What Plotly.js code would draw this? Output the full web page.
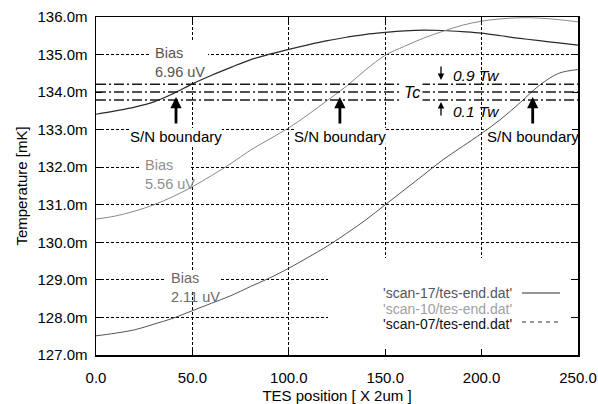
<!DOCTYPE html>
<html>
<head>
<meta charset="utf-8">
<script src="https://cdn.plot.ly/plotly-3.0.1.min.js"></script>
<style>html,body{margin:0;padding:0;background:#fff;}#chart{width:598px;height:404px;}</style>
</head>
<body>
<div id="chart"></div>
<script>
// ---- data ----
const positions = [0,10,20,30,40,50,60,70,80,90,100,110,120,130,140,150,160,170,180,190,200,210,220,230,240,250];
const scan17 = [133.41,133.50,133.60,133.74,133.96,134.22,134.45,134.66,134.86,135.01,135.14,135.26,135.37,135.46,135.54,135.59,135.63,135.65,135.64,135.61,135.57,135.50,135.43,135.37,135.31,135.25];
const scan10 = [130.62,130.70,130.83,131.00,131.22,131.48,131.78,132.10,132.45,132.75,133.05,133.40,133.78,134.16,134.60,134.98,135.22,135.44,135.62,135.78,135.89,135.95,135.98,135.97,135.93,135.87];
const scan07 = [127.51,127.58,127.67,127.82,127.98,128.18,128.38,128.58,128.82,129.05,129.31,129.60,129.90,130.24,130.60,131.00,131.40,131.80,132.20,132.55,132.90,133.28,133.72,134.18,134.50,134.60];
const seriesNames = ["'scan-17/tes-end.dat'", "'scan-10/tes-end.dat'", "'scan-07/tes-end.dat'"];
const biasLabels = ["6.96 uV", "5.56 uV", "2.11 uV"];
const twLevels = [134.21, 134.00, 133.79];      // 0.9 Tw, Tc, 0.1 Tw
const twNames = ["0.9 Tw", "Tc", "0.1 Tw"];
const snBoundaryX = [41.5, 126.5, 226.5];
const xTickVals = [0,50,100,150,200,250];
const xTickText = ["0.0","50.0","100.0","150.0","200.0","250.0"];
const yTickVals = [127,128,129,130,131,132,133,134,135,136];
const yTickText = ["127.0m","128.0m","129.0m","130.0m","131.0m","132.0m","133.0m","134.0m","135.0m","136.0m"];

// ---- styling ----
const FONT = "Liberation Sans, Arial, Helvetica, sans-serif";
const curveColors = ['#2a2a2a', '#8a8a8a', '#555555'];
const curveWidths = [1.2, 1.0, 1.0];
const labelColors = ['#555555', '#a0a0a0', '#111111'];
const biasColors = ['#555555', '#8f8f8f', '#6a6a6a'];

const series = [scan17, scan10, scan07];
const traces = series.map((ys, i) => ({
  x: positions, y: ys, type: 'scatter', mode: 'lines',
  line: {color: curveColors[i], width: curveWidths[i], shape: 'spline', smoothing: 1},
  name: seriesNames[i], showlegend: false, hoverinfo: 'skip'
}));
twLevels.forEach(v => traces.push({
  x: [xTickVals[0], xTickVals[xTickVals.length-1]], y: [v, v], type: 'scatter', mode: 'lines',
  line: {color: '#1a1a1a', width: 1.5, dash: '10px,3px,2px,3px'}, showlegend: false, hoverinfo: 'skip'
}));

// pixel helpers for layout-only placement (plot area 96..578 x, 17..355 y)
const xr = [0, 250], yr = [127, 136];
const L = 96, R = 578, T = 17, B = 355;
const px2x = p => xr[0] + (p - L) / (R - L) * (xr[1] - xr[0]);
const py2y = p => yr[1] - (p - T) / (B - T) * (yr[1] - yr[0]);
const dx = p => p / (R - L) * (xr[1] - xr[0]);

const shapes = [];
function mask(x0p, x1p, y0p, y1p) {
  shapes.push({type: 'rect', layer: 'between', xref: 'x', yref: 'y',
    x0: px2x(x0p), x1: px2x(x1p), y0: py2y(y1p), y1: py2y(y0p),
    fillcolor: '#ffffff', line: {width: 0}});
}
mask(151, 208, 42, 81);     // Bias 6.96
mask(139, 191, 155, 192);   // Bias 5.56
mask(166, 220, 270, 290);   // Bias 2.11
mask(328, 570, 258, 352);   // legend box
// hide grid under the Tc line
shapes.push({type: 'line', layer: 'between', xref: 'x', yref: 'y', x0: xr[0], x1: xr[1],
  y0: twLevels[1], y1: twLevels[1], line: {color: '#ffffff', width: 2}});
// masks for S/N labels
snBoundaryX.forEach(x => {
  shapes.push({type: 'rect', layer: 'between', xref: 'x', yref: 'y',
    x0: x - dx(46), x1: x + dx(46), y0: py2y(145), y1: py2y(128),
    fillcolor: '#ffffff', line: {width: 0}});
});
// legend line samples
shapes.push({type: 'line', xref: 'x', yref: 'y', x0: px2x(522), x1: px2x(560), y0: py2y(293), y1: py2y(293),
  line: {color: curveColors[0], width: 1}});
shapes.push({type: 'line', xref: 'x', yref: 'y', x0: px2x(522), x1: px2x(560), y0: py2y(322), y1: py2y(322),
  line: {color: '#333', width: 1, dash: '4px,4px'}});

const annotations = [];
// Bias labels
const biasPos = [[153, 62], [142.7, 174], [168.7, 287]];
biasLabels.forEach((t, i) => annotations.push({
  x: px2x(biasPos[i][0]), y: py2y(biasPos[i][1]), xref: 'x', yref: 'y',
  text: 'Bias<br>' + t, showarrow: false, xanchor: 'left', yanchor: 'middle', align: 'left',
  font: {family: FONT, size: 14.5, color: biasColors[i]}
}));
// S/N boundary labels + arrows
snBoundaryX.forEach(x => {
  annotations.push({x: x, y: py2y(136), xref: 'x', yref: 'y', text: 'S/N boundary',
    showarrow: false, xanchor: 'center', yanchor: 'middle',
    font: {family: FONT, size: 15, color: '#000'}});
  annotations.push({x: x, y: py2y(97), ax: x, ay: py2y(125), xref: 'x', yref: 'y',
    axref: 'x', ayref: 'y', text: '', showarrow: true, arrowhead: 2, arrowsize: 0.8,
    arrowwidth: 2.8, arrowcolor: '#000'});
});
// Tc / Tw labels
annotations.push({x: px2x(412), y: twLevels[1], xref: 'x', yref: 'y', text: '<i>' + twNames[1] + '</i>',
  showarrow: false, xanchor: 'center', yanchor: 'middle', bgcolor: '#ffffff', borderpad: 2,
  font: {family: FONT, size: 16, color: '#000'}});
annotations.push({x: px2x(451), y: py2y(75), xref: 'x', yref: 'y', text: '<i>' + twNames[0] + '</i>',
  showarrow: false, xanchor: 'left', yanchor: 'middle', font: {family: FONT, size: 15.5, color: '#000'}});
annotations.push({x: px2x(451), y: py2y(111), xref: 'x', yref: 'y', text: '<i>' + twNames[2] + '</i>',
  showarrow: false, xanchor: 'left', yanchor: 'middle', font: {family: FONT, size: 15.5, color: '#000'}});
annotations.push({x: px2x(441), y: py2y(80), ax: px2x(441), ay: py2y(65), xref: 'x', yref: 'y',
  axref: 'x', ayref: 'y', text: '', showarrow: true, arrowhead: 2, arrowsize: 1, arrowwidth: 1.3, arrowcolor: '#000'});
annotations.push({x: px2x(441), y: py2y(102), ax: px2x(441), ay: py2y(117), xref: 'x', yref: 'y',
  axref: 'x', ayref: 'y', text: '', showarrow: true, arrowhead: 2, arrowsize: 1, arrowwidth: 1.3, arrowcolor: '#000'});
// legend text
const legY = [293, 308.5, 324];
seriesNames.forEach((n, i) => annotations.push({
  x: px2x(513), y: py2y(legY[i]), xref: 'x', yref: 'y', text: n, showarrow: false,
  xanchor: 'right', yanchor: 'middle', borderpad: 0,
  font: {family: FONT, size: 14, color: labelColors[i]}
}));

const layout = {
  width: 598, height: 404,
  margin: {l: L, r: 598 - R, t: T, b: 404 - B, pad: 0},
  paper_bgcolor: '#ffffff', plot_bgcolor: '#ffffff',
  showlegend: false,
  font: {family: FONT, size: 15, color: '#000'},
  xaxis: {
    range: xr, tickmode: 'array', tickvals: xTickVals, ticktext: xTickText, ticks: 'inside', ticklen: 6, tickcolor: '#000',
    showline: true, linecolor: '#000', linewidth: 1.5, mirror: 'ticks',
    showgrid: true, gridcolor: '#000', gridwidth: 1, griddash: '3px,2px', zeroline: false,
    ticklabelstandoff: 8,
    tickfont: {family: FONT, size: 15, color: '#000'},
    title: {text: 'TES position [ X 2um ]', font: {family: FONT, size: 15, color: '#000'}, standoff: 6},
    automargin: false, fixedrange: true
  },
  yaxis: {
    range: yr, tickmode: 'array', tickvals: yTickVals, ticktext: yTickText, ticks: 'inside', ticklen: 6, tickcolor: '#000',
    showline: true, linecolor: '#000', linewidth: 1.5, mirror: 'ticks',
    showgrid: true, gridcolor: '#000', gridwidth: 1, griddash: '3px,2px', zeroline: false,
    ticklabelstandoff: 4,
    tickfont: {family: FONT, size: 15, color: '#000'},
    title: {text: 'Temperature [mK]', font: {family: FONT, size: 15, color: '#000'}, standoff: 6},
    automargin: false, fixedrange: true
  },
  shapes: shapes,
  annotations: annotations
};

Plotly.newPlot('chart', traces, layout, {displayModeBar: false, staticPlot: true});
</script>
</body>
</html>
